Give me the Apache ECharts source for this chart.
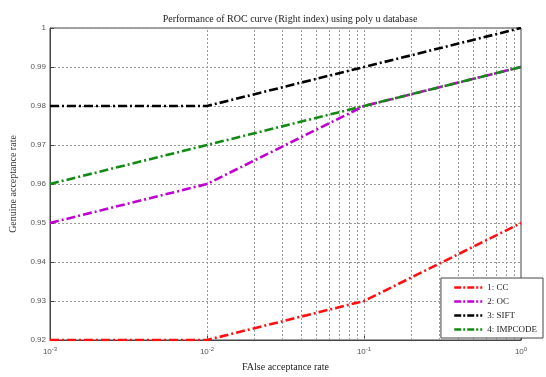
<!DOCTYPE html>
<html>
<head>
<meta charset="utf-8">
<script src="https://cdn.jsdelivr.net/npm/echarts@6/dist/echarts.min.js"></script>
<style>
html,body{margin:0;padding:0;background:#fff}
#main{width:546px;height:377px}
</style>
</head>
<body>
<div id="main"></div>
<script>
// false acceptance rate (log x) and genuine acceptance rate per method
var far = [0.001, 0.01, 0.1, 1];
var names = ['1: CC', '2: OC', '3: SIFT', '4: IMPCODE'];
var cc = [0.92, 0.92, 0.93, 0.95];
var oc = [0.95, 0.96, 0.98, 0.99];
var sift = [0.98, 0.98, 0.99, 1.0];
var impcode = [0.96, 0.97, 0.98, 0.99];
var colors = ['#ff1010', '#c000d0', '#000000', '#138a13'];
var minorX = [0.002,0.003,0.004,0.005,0.006,0.007,0.008,0.009,
              0.02,0.03,0.04,0.05,0.06,0.07,0.08,0.09,
              0.2,0.3,0.4,0.5,0.6,0.7,0.8,0.9, 0.01, 0.1];

function pairs(ys) {
    return far.map(function(x, i) { return [x, ys[i]]; });
}

var serif = 'Liberation Serif';
var dash = [9, 3, 2, 3];
var chart = echarts.init(document.getElementById('main'));
var all = [cc, oc, sift, impcode];

var series = all.map(function(ys, i) {
    var s = {
        name: names[i],
        type: 'line',
        data: pairs(ys),
        symbol: 'none',
        z: 3 + i,
        lineStyle: { color: colors[i], width: 2.6, type: dash },
        itemStyle: { color: colors[i] }
    };
    if (i === 0) {
        s.markLine = {
            silent: true,
            symbol: 'none',
            label: { show: false },
            z: 1,
            lineStyle: { color: '#999', width: 1, type: [2, 2] },
            data: minorX.map(function(v) { return { xAxis: v }; })
        };
    }
    return s;
});

chart.setOption({
    animation: false,
    title: {
        text: 'Performance of ROC curve (Right index) using poly u database',
        left: 285, top: 9, textAlign: 'center',
        textStyle: { fontFamily: serif, fontSize: 10, fontWeight: 'normal', color: '#222' }
    },
    grid: { left: 49, right: 25, top: 28, bottom: 35, show: true, borderColor: '#444', borderWidth: 1 },
    legend: {
        right: 3, bottom: 39,
        orient: 'vertical',
        backgroundColor: '#fff',
        borderColor: '#444', borderWidth: 1,
        padding: [5, 6, 4, 12],
        itemWidth: 28, itemHeight: 10, itemGap: 5,
        itemStyle: { opacity: 0 },
        textStyle: { fontFamily: serif, fontSize: 9, color: '#222' },
        data: names.map(function(n, i) {
            return { name: n, lineStyle: { color: colors[i], width: 2.6, type: [7, 2, 2, 2] } };
        })
    },
    xAxis: {
        type: 'log', logBase: 10, min: 0.001, max: 1,
        name: 'FAlse acceptance rate', nameLocation: 'middle', nameGap: 22,
        nameTextStyle: { fontFamily: serif, fontSize: 10, color: '#222' },
        axisLine: { lineStyle: { color: '#444' } },
        axisTick: { inside: true, length: 4, lineStyle: { color: '#444' } },
        splitLine: { show: false },
        axisLabel: {
            color: '#555', margin: 6,
            formatter: function(v) {
                return '{b|10}{s|' + Math.round(Math.log10(v)) + '}';
            },
            rich: {
                b: { fontFamily: 'Liberation Sans', fontSize: 8, color: '#555' },
                s: { fontFamily: 'Liberation Sans', fontSize: 6, color: '#555', verticalAlign: 'top', padding: [0, 0, 6, 0] }
            }
        }
    },
    yAxis: {
        type: 'value', min: 0.92, max: 1, interval: 0.01,
        name: 'Genuine acceptance rate', nameLocation: 'middle', nameGap: 32,
        nameTextStyle: { fontFamily: serif, fontSize: 10, color: '#333' },
        axisLine: { show: true, lineStyle: { color: '#444' } },
        axisTick: { show: true, inside: true, length: 4, lineStyle: { color: '#444' } },
        splitLine: { show: true, lineStyle: { color: '#999', width: 1, type: [2, 2] } },
        axisLabel: {
            color: '#555', fontFamily: 'Liberation Sans', fontSize: 8, margin: 4,
            formatter: function(v) { return String(Number(v.toFixed(2))); }
        }
    },
    series: series
});
</script>
</body>
</html>
